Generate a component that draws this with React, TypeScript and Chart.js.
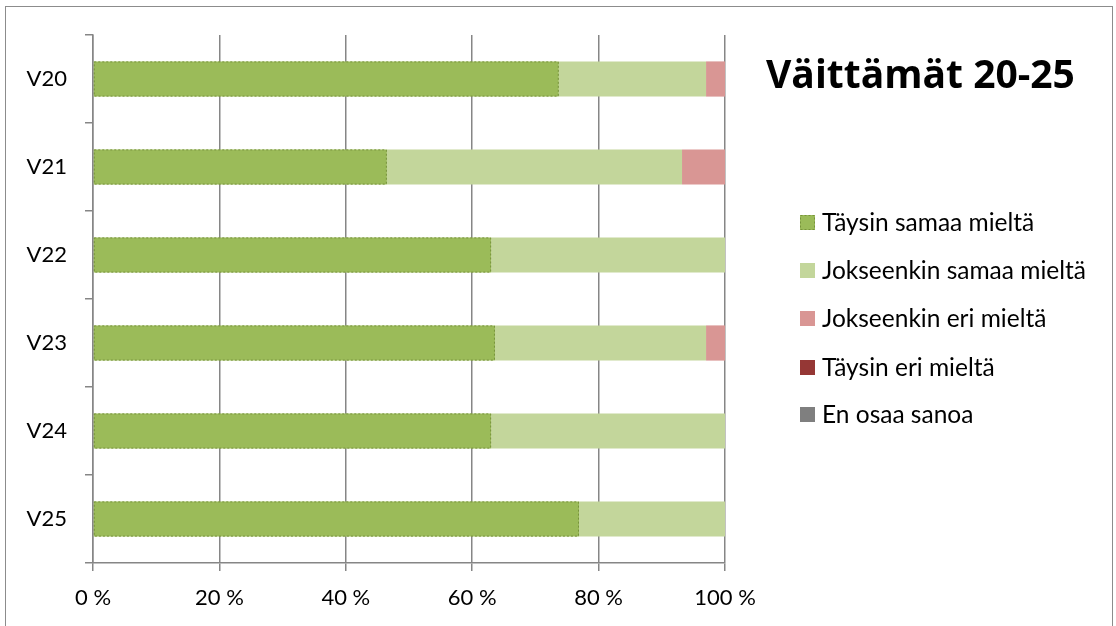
import React, { useEffect, useRef } from "react";
import { Chart, registerables } from "chart.js";

Chart.register(...registerables);

const categories = ["V20", "V21", "V22", "V23", "V24", "V25"];
const seriesNames = [
  "Täysin samaa mieltä",
  "Jokseenkin samaa mieltä",
  "Jokseenkin eri mieltä",
  "Täysin eri mieltä",
  "En osaa sanoa",
];
const taysinSamaa = [73.7, 46.5, 63.0, 63.6, 63.0, 76.9];
const jokseenkinSamaa = [23.3, 46.7, 37.0, 33.4, 37.0, 23.1];
const jokseenkinEri = [3.0, 6.8, 0, 3.0, 0, 0];
const taysinEri = [0, 0, 0, 0, 0, 0];
const enOsaa = [0, 0, 0, 0, 0, 0];
const xTicks = [0, 20, 40, 60, 80, 100];
const title = "Väittämät 20-25";

const colors = ["#9BBB59", "#C3D69B", "#D99694", "#953735", "#7F7F7F"];
const FONT = "Lato, 'Liberation Sans', sans-serif";
const TITLE_FONT = "'Open Sans', Lato, sans-serif";

const overlayPlugin = {
  id: "overlay",
  afterDatasetsDraw(chart: any) {
    const ctx = chart.ctx;
    const meta = chart.getDatasetMeta(0);
    ctx.save();
    ctx.strokeStyle = "#77933C";
    ctx.lineWidth = 1;
    ctx.setLineDash([2, 2]);
    meta.data.forEach((el: any) => {
      const p = el.getProps(["x", "y", "base", "height"], true);
      const left = Math.min(p.x, p.base);
      const w = Math.abs(p.x - p.base);
      if (w <= 0) return;
      ctx.strokeRect(left + 0.5, p.y - p.height / 2 + 0.5, w - 1, p.height - 1);
    });
    ctx.restore();
  },
  afterDraw(chart: any) {
    const ctx = chart.ctx;
    ctx.save();
    ctx.fillStyle = "#000";
    ctx.font = `bold 39px ${TITLE_FONT}`;
    ctx.textAlign = "left";
    ctx.textBaseline = "alphabetic";
    ctx.fillText(title, 766, 88);
    ctx.font = `24.5px ${FONT}`;
    const rows = [222, 270, 318, 367, 414];
    seriesNames.forEach((name, i) => {
      const y = rows[i];
      ctx.fillStyle = colors[i];
      ctx.fillRect(800, y - 7, 15, 15);
      if (i === 0) {
        ctx.save();
        ctx.strokeStyle = "#77933C";
        ctx.setLineDash([2, 2]);
        ctx.lineWidth = 1;
        ctx.strokeRect(800.5, y - 6.5, 14, 14);
        ctx.restore();
      }
      ctx.fillStyle = "#000";
      ctx.textBaseline = "middle";
      ctx.fillText(name, 822, y + 1);
    });
    ctx.restore();
  },
};

export default function App() {
  const ref = useRef<HTMLCanvasElement>(null);
  useEffect(() => {
    if (!ref.current) return;
    const series = [taysinSamaa, jokseenkinSamaa, jokseenkinEri, taysinEri, enOsaa];
    const chart = new Chart(ref.current, {
      type: "bar",
      data: {
        labels: categories,
        datasets: series.map((d, i) => ({
          label: seriesNames[i],
          data: d,
          backgroundColor: colors[i],
          borderWidth: 0,
          barPercentage: 0.4,
          categoryPercentage: 1,
        })),
      },
      options: {
        indexAxis: "y",
        animation: false,
        responsive: false,
        maintainAspectRatio: false,
        layout: { padding: { left: 0, right: 391, top: 35, bottom: 0 } },
        plugins: {
          legend: { display: false },
          tooltip: { enabled: false },
          title: { display: false },
        },
        scales: {
          x: {
            stacked: true,
            min: 0,
            max: 100,
            afterFit: (s: any) => {
              s.height = 63;
            },
            afterBuildTicks: (s: any) => {
              s.ticks = xTicks.map((v) => ({ value: v }));
            },
            ticks: {
              callback: (v: any) => `${v} %`,
              color: "#000",
              font: { family: FONT, size: 22 },
              padding: 14,
              maxRotation: 0,
            },
            grid: {
              color: "#868686",
              lineWidth: 1.5,
              tickLength: 8,
              drawTicks: true,
            },
            border: { color: "#868686", width: 1.5 },
          },
          y: {
            stacked: true,
            afterFit: (s: any) => {
              s.width = 93;
            },
            ticks: {
              color: "#000",
              font: { family: FONT, size: 22 },
              padding: 18,
            },
            grid: {
              offset: true,
              drawOnChartArea: false,
              drawTicks: true,
              tickLength: 8,
              color: "#868686",
              lineWidth: 1.5,
            },
            border: { color: "#868686", width: 1.5 },
          },
        },
      },
      plugins: [overlayPlugin],
    });
    return () => chart.destroy();
  }, []);

  return (
    <div style={{ position: "fixed", left: 0, top: 0, width: 1116, height: 626, background: "#fff", overflow: "hidden" }}>
      <div
        style={{
          position: "absolute",
          left: 5,
          top: 6,
          width: 1108,
          height: 700,
          border: "1px solid #8c8c8c",
          boxSizing: "border-box",
        }}
      />
      <canvas ref={ref} width={1116} height={626} style={{ position: "absolute", left: 0, top: 0, width: 1116, height: 626 }} />
    </div>
  );
}
